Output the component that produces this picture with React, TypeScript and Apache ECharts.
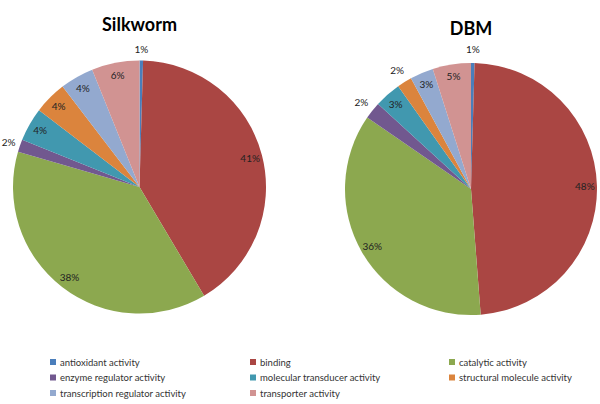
import React, { useEffect, useRef } from "react";
import * as echarts from "echarts";

const categories = [
  "antioxidant activity",
  "binding",
  "catalytic activity",
  "enzyme regulator activity",
  "molecular transducer activity",
  "structural molecule activity",
  "transcription regulator activity",
  "transporter activity",
];
const silkwormValues = [0.45, 41, 38, 1.6, 4.3, 4.2, 4.3, 6.1];
const dbmValues = [0.45, 48.3, 35.8, 2.2, 3.4, 1.9, 3.0, 4.9];
const silkwormOutside = ["antioxidant activity", "enzyme regulator activity"];
const dbmOutside = ["antioxidant activity", "enzyme regulator activity", "structural molecule activity"];
const titles = ["Silkworm", "DBM"];
const colors = ["#4A7EBB", "#AA4643", "#8CA84F", "#71588F", "#4198AF", "#DB843D", "#93A9CF", "#D19392"];

const legendCols = [
  [categories[0], categories[3], categories[6]],
  [categories[1], categories[4], categories[7]],
  [categories[2], categories[5]],
];

const FONT = "Lato, 'DejaVu Sans', sans-serif";

function fmt(p: any) {
  return Math.max(1, Math.round(p.percent)) + "%";
}

function pieSeries(values: number[], outside: string[], cx: number, cy: number, r: number, outW: number) {
  const base = categories.map((c, i) => ({ name: c, value: values[i] }));
  const visible = {
    type: "pie",
    center: [cx, cy],
    radius: [0, r],
    startAngle: 90,
    clockwise: true,
    silent: true,
    label: { show: false },
    labelLine: { show: false },
    itemStyle: { borderWidth: 0 },
    data: base.map((d, i) => ({ ...d, itemStyle: { color: colors[i] } })),
  };
  const labelStyle = { color: "#222", fontSize: 10, fontFamily: FONT };
  const inner = {
    type: "pie",
    center: [cx, cy],
    radius: [r * 0.76, r],
    startAngle: 90,
    silent: true,
    avoidLabelOverlap: false,
    labelLine: { show: false },
    itemStyle: { color: "rgba(0,0,0,0)" },
    label: { show: true, position: "inside", formatter: fmt, ...labelStyle },
    data: base.map((d) => ({ ...d, label: { show: !outside.includes(d.name) } })),
  };
  const outer = {
    type: "pie",
    center: [cx, cy],
    radius: [r, r + outW],
    startAngle: 90,
    silent: true,
    avoidLabelOverlap: false,
    labelLine: { show: false },
    itemStyle: { color: "rgba(0,0,0,0)" },
    label: { show: true, position: "inside", formatter: fmt, ...labelStyle },
    data: base.map((d) => ({ ...d, label: { show: outside.includes(d.name) } })),
  };
  return [visible, inner, outer];
}

export default function App() {
  const ref = useRef<HTMLDivElement>(null);
  useEffect(() => {
    if (!ref.current) return;
    const chart = echarts.init(ref.current, undefined, { renderer: "svg" });
    const s1 = pieSeries(silkwormValues, silkwormOutside, 139.5, 187, 126.5, 18);
    const s2 = pieSeries(dbmValues, dbmOutside, 471, 189, 126, 22);
    const legendLefts = [50, 250, 449];
    chart.setOption({
      animation: false,
      backgroundColor: "#ffffff",
      color: colors,
      graphic: [
        {
          type: "text",
          x: 139.5,
          y: 24,
          style: { text: titles[0], fill: "#000", font: "bold 18px " + FONT, textAlign: "center", textVerticalAlign: "middle" },
        },
        {
          type: "text",
          x: 471,
          y: 28,
          style: { text: titles[1], fill: "#000", font: "bold 18px " + FONT, textAlign: "center", textVerticalAlign: "middle" },
        },
      ],
      legend: legendCols.map((col, i) => ({
        data: col,
        orient: "vertical",
        left: legendLefts[i],
        top: 356,
        icon: "rect",
        itemWidth: 6,
        itemHeight: 6,
        itemGap: 3.5,
        selectedMode: false,
        textStyle: { color: "#333", fontSize: 9.5, fontFamily: FONT, lineHeight: 12, padding: [0, 0, 0, -1] },
        padding: 0,
      })),
      series: [s1[0], s2[0], s1[1], s1[2], s2[1], s2[2]],
    });
    return () => chart.dispose();
  }, []);
  return <div ref={ref} style={{ width: 600, height: 404, position: "absolute", left: 0, top: 0 }} />;
}
